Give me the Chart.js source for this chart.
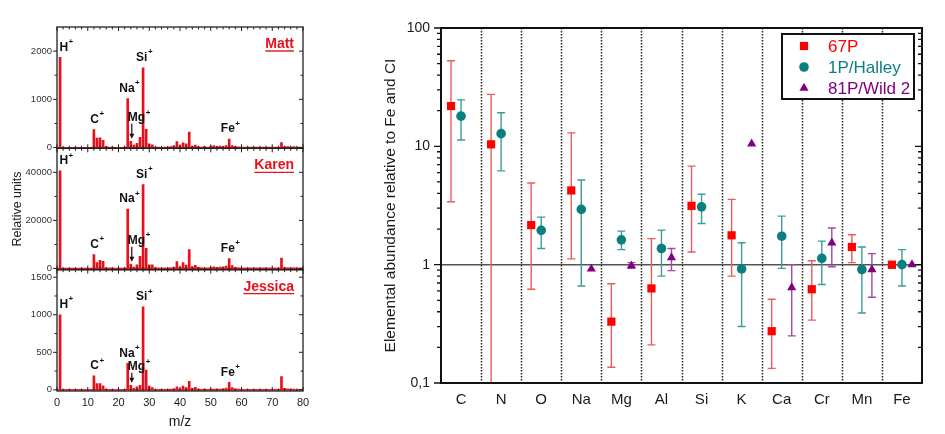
<!DOCTYPE html>
<html><head><meta charset="utf-8">
<script src="https://cdn.jsdelivr.net/npm/chart.js@4.4.1/dist/chart.umd.min.js"></script>
<style>
html,body{margin:0;padding:0;background:#fff;width:945px;height:434px;overflow:hidden}
canvas{position:absolute;top:0}
#left{left:0;width:330px;height:434px}
#right{left:340px;width:605px;height:434px}
</style></head><body>
<canvas id="left" width="330" height="434"></canvas>
<canvas id="right" width="605" height="434"></canvas>
<script>
// ---------------- DATA: mass spectra (left) ----------------
const massNumbers = [
  1,2,3,4,5,6,7,8,9,10, 11,12,13,14,15,16,17,18,19,20,
  21,22,23,24,25,26,27,28,29,30, 31,32,33,34,35,36,37,38,39,40,
  41,42,43,44,45,46,47,48,49,50, 51,52,53,54,55,56,57,58,59,60,
  61,62,63,64,65,66,67,68,69,70, 71,72,73,74,75,76,77,78,79,80];
const mattCounts = [
  1870,0,0,0,0,0,0,0,0,0, 0,373,200,205,150,20,10,10,0,0,
  0,10,1015,130,50,90,215,1656,380,80, 60,10,10,0,10,10,20,40,125,40,
  100,80,320,30,50,20,10,20,10,30, 40,20,30,20,40,175,40,20,15,10,
  10,10,10,10,10,10,10,10,10,10, 10,10,105,20,20,10,20,10,10,0];
const karenCounts = [
  40600,0,0,0,0,0,0,0,0,0, 0,5800,2500,3400,3000,300,200,200,0,0,
  0,200,24700,1800,600,1500,5000,34900,8400,1500, 1500,300,200,0,200,200,300,600,2900,600,
  2400,1400,7900,800,1300,500,300,200,200,500, 700,400,600,700,1000,4100,1200,500,300,200,
  200,200,200,200,200,200,200,200,200,200, 200,200,4300,400,300,200,300,200,200,0];
const jessicaCounts = [
  1000,0,0,0,0,0,0,0,0,0, 0,186,84,84,53,10,5,5,0,0,
  0,5,354,60,20,40,60,1105,265,50, 30,5,5,0,5,5,10,15,40,15,
  50,30,115,20,35,10,5,10,5,10, 10,10,10,15,25,102,30,15,10,5,
  5,5,5,5,5,5,5,5,5,5, 5,5,177,20,15,10,10,5,5,0];
const sampleNames = ['Matt','Karen','Jessica'];
const mattTicks = [0,1000,2000];
const karenTicks = [0,20000,40000];
const jessicaTicks = [0,500,1000,1500];
const mzTicks = [0,10,20,30,40,50,60,70,80];
const ionNames = ['H','C','Na','Mg','Si','Fe'];
const ionMasses = [1,12,23,24,28,56];

// ---------------- DATA: elemental abundances (right) ----------------
const categories = ['C','N','O','Na','Mg','Al','Si','K','Ca','Cr','Mn','Fe'];
const seriesNames = ['67P','1P/Halley','81P/Wild 2'];
const abund67P     = [21.9, 10.4, 2.16, 4.24, 0.33, 0.63, 3.14, 1.77, 0.274, 0.62, 1.41, 1.0];
const abund67PLow  = [3.4, 0.05, 0.62, 1.12, 0.136, 0.21, 1.28, 0.80, 0.133, 0.34, 1.04, 0.93];
const abund67PHigh = [52.8, 27.5, 4.9, 13.0, 0.69, 1.66, 6.8, 3.56, 0.51, 1.08, 1.79, 1.06];
const halley       = [18.0, 12.8, 1.95, 2.93, 1.62, 1.37, 3.08, 0.92, 1.74, 1.13, 0.91, 1.0];
const halleyLow    = [11.3, 6.2, 1.37, 0.66, 1.34, 0.80, 2.23, 0.30, 0.93, 0.68, 0.39, 0.66];
const halleyHigh   = [24.7, 19.2, 2.52, 5.2, 1.92, 1.96, 3.94, 1.53, 2.57, 1.58, 1.41, 1.34];
const wild2        = [null, null, null, 0.92, 0.98, 1.15, null, 10.5, 0.64, 1.53, 0.91, 1.0];
const wild2Low     = [null, null, null, null, 0.93, 0.89, null, null, 0.25, 0.96, 0.53, null];
const wild2High    = [null, null, null, null, 1.04, 1.37, null, null, 1.0, 2.04, 1.24, null];
const logTickValues = [0.1, 1, 10, 100];
const logTickLabels = ['0,1', '1', '10', '100'];

// ---------------- styles ----------------
const FAM = '"Liberation Sans", Arial, Helvetica, sans-serif';
Chart.defaults.font.family = FAM;
Chart.defaults.color = '#1a1a1a';
const SPEC_RED = '#e8101a';
const TXT = '#1a1a1a';

// ================= LEFT: stacked spectra =================
const panelAxisIds = ['yMatt','yKaren','yJessica'];
const panelCounts = [mattCounts, karenCounts, jessicaCounts];
const panelTicks = [mattTicks, karenTicks, jessicaTicks];
const mgArrowLen = [15, 15, 10];   // style: arrow length per panel (px)

function specData(arr) { return massNumbers.map((m, i) => ({x: m, y: arr[i]})); }
function setTicks(vals) { return s => { s.ticks = vals.map(v => ({value: v})); }; }

function drawIon(ctx, name, cx, cy) {
  ctx.font = 'bold 12px ' + FAM;
  const w1 = ctx.measureText(name).width;
  ctx.font = 'bold 8px ' + FAM;
  const w2 = ctx.measureText('+').width;
  const left = cx - (w1 + w2) / 2;
  ctx.fillStyle = '#111';
  ctx.textAlign = 'left'; ctx.textBaseline = 'middle';
  ctx.font = 'bold 12px ' + FAM;
  ctx.fillText(name, left, cy);
  ctx.font = 'bold 8px ' + FAM;
  ctx.fillText('+', left + w1 + 0.5, cy - 5.5);
}

const ionDx = {H: 6, C: 3, Na: 1.5, Mg: 8, Si: 1, Fe: 1};

const leftDecor = {
  id: 'leftDecor',
  beforeDatasetsDraw(chart) {
    const {ctx, scales} = chart; const xs = scales.x;
    ctx.save(); ctx.strokeStyle = SPEC_RED; ctx.lineWidth = 1.3;
    panelAxisIds.forEach(id => {
      const py = scales[id].getPixelForValue(0);
      ctx.beginPath(); ctx.moveTo(xs.getPixelForValue(xs.min), py);
      ctx.lineTo(xs.getPixelForValue(xs.max), py); ctx.stroke();
    });
    ctx.restore();
  },
  afterDatasetsDraw(chart) {
    const {ctx, chartArea: a, scales} = chart; const xs = scales.x;
    ctx.save();
    panelAxisIds.forEach((id, p) => {
      const ys = scales[id];
      ctx.strokeStyle = '#222'; ctx.lineWidth = 1.3;
      ctx.strokeRect(a.left, ys.top, a.right - a.left, ys.bottom - ys.top);
      ctx.lineWidth = 1;
      for (let m = xs.min; m <= xs.max; m += 2) {
        const px = xs.getPixelForValue(m); const len = m % 10 === 0 ? 4 : 2.5;
        ctx.beginPath();
        ctx.moveTo(px, ys.top); ctx.lineTo(px, ys.top + len);
        ctx.moveTo(px, ys.bottom); ctx.lineTo(px, ys.bottom - len);
        ctx.stroke();
      }
      const tv = panelTicks[p]; const half = (tv[1] - tv[0]) / 2;
      for (let k = 0; tv[0] + k * half < ys.max - half * 0.2; k++) {
        const v = tv[0] + k * half; const py = ys.getPixelForValue(v);
        const len = k % 2 === 0 ? 4 : 2.5;
        ctx.beginPath();
        ctx.moveTo(a.left, py); ctx.lineTo(a.left - len, py);
        ctx.moveTo(a.right, py); ctx.lineTo(a.right - len, py);
        ctx.stroke();
      }
      const counts = panelCounts[p];
      ionNames.forEach((name, k) => {
        const mz = ionMasses[k];
        const v = counts[massNumbers.indexOf(mz)];
        const px = xs.getPixelForValue(mz); const top = ys.getPixelForValue(v);
        if (name === 'Mg') {
          const ax = px + 1, tip = top - 2.5, tail = tip - mgArrowLen[p];
          ctx.strokeStyle = '#111'; ctx.fillStyle = '#111'; ctx.lineWidth = 1.2;
          ctx.beginPath(); ctx.moveTo(ax, tail); ctx.lineTo(ax, tip - 3); ctx.stroke();
          ctx.beginPath(); ctx.moveTo(ax, tip); ctx.lineTo(ax - 2.5, tip - 5); ctx.lineTo(ax + 2.5, tip - 5); ctx.closePath(); ctx.fill();
          drawIon(ctx, name, px + ionDx[name], tail - 6);
        } else {
          drawIon(ctx, name, px + ionDx[name], top - 10);
        }
      });
      ctx.font = 'bold 14px ' + FAM; ctx.fillStyle = SPEC_RED; ctx.strokeStyle = SPEC_RED;
      ctx.textAlign = 'right'; ctx.textBaseline = 'middle';
      const nm = sampleNames[p]; const rx = a.right - 9, cy = ys.top + 17;
      ctx.fillText(nm, rx, cy);
      const w = ctx.measureText(nm).width;
      ctx.lineWidth = 1.4; ctx.beginPath(); ctx.moveTo(rx - w, cy + 7); ctx.lineTo(rx, cy + 7); ctx.stroke();
    });
    ctx.restore();
  }
};

function yPanel(weight, min, max, ticks, extra) {
  return Object.assign({
    type: 'linear', position: 'left', stack: 'spectra', stackWeight: 1, weight: weight,
    min: min, max: max, afterBuildTicks: setTicks(ticks),
    afterFit: s => { s.width = 57; },
    grid: {display: false, drawTicks: false}, border: {display: false},
    ticks: {padding: 5, font: {size: 9.5}, color: '#333', callback: v => String(v)}
  }, extra || {});
}

new Chart(document.getElementById('left'), {
  type: 'bar',
  data: {
    datasets: panelCounts.map((arr, p) => ({
      label: sampleNames[p], data: specData(arr), yAxisID: panelAxisIds[p],
      backgroundColor: SPEC_RED, barThickness: 2, grouped: false, borderWidth: 0
    }))
  },
  options: {
    responsive: false, animation: false, devicePixelRatio: 1, events: [],
    layout: {padding: {left: 0, right: 27, top: 27, bottom: 0}},
    plugins: {legend: {display: false}, tooltip: {enabled: false}},
    scales: {
      x: {
        type: 'linear', position: 'bottom', min: 0, max: 80, offset: false,
        afterBuildTicks: setTicks(mzTicks), afterFit: s => { s.height = 43; },
        grid: {display: false, drawTicks: false}, border: {display: false},
        ticks: {padding: 5, font: {size: 11}, color: TXT, maxRotation: 0, autoSkip: false},
        title: {display: true, text: 'm/z', font: {size: 14}, color: TXT, padding: {top: 0, bottom: 3}}
      },
      yMatt: yPanel(3, -15, 2500, mattTicks),
      yKaren: yPanel(2, -500, 50000, karenTicks, {
        title: {display: true, text: 'Relative units', font: {size: 12.5}, color: '#222', padding: {top: 10, bottom: 0}}
      }),
      yJessica: yPanel(1, -15, 1600, jessicaTicks)
    }
  },
  plugins: [leftDecor]
});

// ================= RIGHT: abundances =================
const seriesValues = [abund67P, halley, wild2];
const seriesLow = [abund67PLow, halleyLow, wild2Low];
const seriesHigh = [abund67PHigh, halleyHigh, wild2High];
const seriesStyle = [
  {color: '#ff0000', err: '#ef5a5a', shape: 'rect', radius: 5.8, off: -0.25},
  {color: '#0b7f7f', err: '#3f9a9a', shape: 'circle', radius: 4.8, off: 0},
  {color: '#800080', err: '#a24aa2', shape: 'triangle', radius: 5.3, off: 0.25}
];

function drawMarker(ctx, shape, x, y, r, color) {
  ctx.fillStyle = color; ctx.beginPath();
  if (shape === 'rect') { const h = r * Math.SQRT1_2; ctx.rect(x - h, y - h, 2 * h, 2 * h); }
  else if (shape === 'circle') { ctx.arc(x, y, r, 0, Math.PI * 2); }
  else {
    for (let k = 0; k < 3; k++) {
      const ang = k * 2 * Math.PI / 3;
      const px = x + Math.sin(ang) * r, py = y - Math.cos(ang) * r;
      if (k === 0) ctx.moveTo(px, py); else ctx.lineTo(px, py);
    }
    ctx.closePath();
  }
  ctx.fill();
}

const rightDecor = {
  id: 'rightDecor',
  beforeDatasetsDraw(chart) {
    const {ctx, chartArea: a, scales: {x, y}} = chart;
    ctx.save();
    ctx.strokeStyle = '#222'; ctx.lineWidth = 1.5; ctx.setLineDash([1.5, 1.5]);
    for (let i = 0; i < categories.length - 1; i++) {
      const px = Math.round(x.getPixelForValue(i + 0.5)) + 0.5;
      ctx.beginPath(); ctx.moveTo(px, a.top); ctx.lineTo(px, a.bottom); ctx.stroke();
    }
    ctx.setLineDash([]);
    const p1 = y.getPixelForValue(1);
    ctx.strokeStyle = '#555'; ctx.lineWidth = 1.5;
    ctx.beginPath(); ctx.moveTo(a.left, p1); ctx.lineTo(a.right, p1); ctx.stroke();
    ctx.beginPath(); ctx.rect(a.left, a.top, a.right - a.left, a.bottom - a.top); ctx.clip();
    seriesValues.forEach((vals, s) => {
      const st = seriesStyle[s];
      ctx.strokeStyle = st.err; ctx.lineWidth = 1.4;
      vals.forEach((v, i) => {
        const lo = seriesLow[s][i], hi = seriesHigh[s][i];
        if (v == null || lo == null || hi == null) return;
        const px = x.getPixelForValue(i + st.off);
        const yl = y.getPixelForValue(lo), yh = y.getPixelForValue(hi);
        ctx.beginPath();
        ctx.moveTo(px, yl); ctx.lineTo(px, yh);
        ctx.moveTo(px - 4, yl); ctx.lineTo(px + 4, yl);
        ctx.moveTo(px - 4, yh); ctx.lineTo(px + 4, yh);
        ctx.stroke();
      });
    });
    ctx.restore();
  },
  afterDraw(chart) {
    const {ctx, chartArea: a, scales: {y}} = chart;
    ctx.save();
    ctx.strokeStyle = '#111'; ctx.lineWidth = 2;
    ctx.strokeRect(a.left, a.top, a.right - a.left, a.bottom - a.top);
    ctx.lineWidth = 1.3;
    for (let d = 0; d < logTickValues.length; d++) {
      const dec = logTickValues[d];
      const pm = y.getPixelForValue(dec);
      ctx.beginPath();
      ctx.moveTo(a.left, pm); ctx.lineTo(a.left - 7, pm);
      ctx.moveTo(a.right, pm); ctx.lineTo(a.right - 7, pm);
      ctx.stroke();
      if (d === logTickValues.length - 1) break;
      for (let m = 2; m <= 9; m++) {
        const pp = y.getPixelForValue(dec * m);
        ctx.beginPath();
        ctx.moveTo(a.left, pp); ctx.lineTo(a.left - 4, pp);
        ctx.moveTo(a.right, pp); ctx.lineTo(a.right - 4, pp);
        ctx.stroke();
      }
    }
    const bw = 132, bh = 65;
    const bx = a.right - 8 - bw, by = a.top + 6;
    ctx.fillStyle = '#fff'; ctx.fillRect(bx, by, bw, bh);
    ctx.strokeStyle = '#111'; ctx.lineWidth = 2; ctx.strokeRect(bx, by, bw, bh);
    ctx.font = '17px ' + FAM; ctx.textAlign = 'left'; ctx.textBaseline = 'middle';
    seriesNames.forEach((nm, s) => {
      const st = seriesStyle[s]; const cy = by + 12 + s * 21;
      drawMarker(ctx, st.shape, bx + 22, cy, st.radius, st.color);
      ctx.fillStyle = st.color; ctx.fillText(nm, bx + 46, cy + 1);
    });
    ctx.restore();
  }
};

new Chart(document.getElementById('right'), {
  type: 'scatter',
  data: {
    datasets: seriesValues.map((vals, s) => ({
      label: seriesNames[s],
      data: vals.map((v, i) => v == null ? null : {x: i + seriesStyle[s].off, y: v}).filter(p => p),
      pointStyle: seriesStyle[s].shape, pointRadius: seriesStyle[s].radius,
      backgroundColor: seriesStyle[s].color, borderColor: seriesStyle[s].color, borderWidth: 0,
      showLine: false
    }))
  },
  options: {
    responsive: false, animation: false, devicePixelRatio: 1, events: [],
    layout: {padding: {left: 0, right: 23, top: 28, bottom: 0}},
    plugins: {legend: {display: false}, tooltip: {enabled: false}},
    scales: {
      x: {
        type: 'linear', min: -0.5, max: categories.length - 0.5,
        afterBuildTicks: s => { s.ticks = categories.map((c, i) => ({value: i})); },
        afterFit: s => { s.height = 51; },
        grid: {display: false, drawTicks: false}, border: {display: false},
        ticks: {padding: 8, font: {size: 15}, color: TXT, autoSkip: false, maxRotation: 0,
          callback: v => categories[v]}
      },
      y: {
        type: 'logarithmic', min: 0.1, max: 100,
        afterBuildTicks: setTicks(logTickValues),
        afterFit: s => { s.width = 101; },
        grid: {display: false, drawTicks: false}, border: {display: false},
        ticks: {padding: 11, font: {size: 14}, color: TXT,
          callback: v => logTickLabels[logTickValues.indexOf(v)]},
        title: {display: true, text: 'Elemental abundance relative to Fe and CI',
          font: {size: 15.5}, color: TXT, padding: {top: 41, bottom: 0}}
      }
    }
  },
  plugins: [rightDecor]
});
</script>
</body></html>
